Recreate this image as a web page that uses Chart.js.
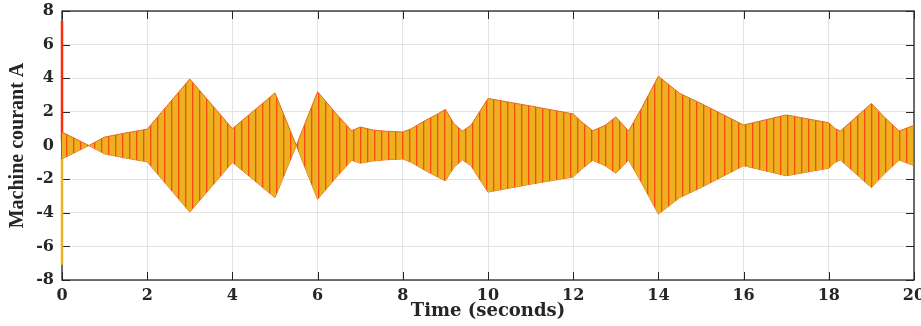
<!DOCTYPE html>
<html>
<head>
<meta charset="utf-8">
<script src="https://cdn.jsdelivr.net/npm/chart.js@4"></script>
<style>
  body { margin: 0; background: #fff; }
  #wrap { width: 921px; height: 326px; position: relative; }
</style>
</head>
<body>
<div id="wrap"><canvas id="current-chart"></canvas></div>
<script>
// envelope of the machine current
const times = [0, 0.63, 1, 1.5, 2, 3, 4, 5, 5.5, 6, 6.4, 6.8, 7, 7.3, 7.6, 8, 8.2, 8.5, 8.8, 9,
  9.2, 9.4, 9.6, 9.8, 10, 11, 12, 12.2, 12.46, 12.75, 13, 13.3, 13.6, 14, 14.5, 15, 16, 17, 18,
  18.15, 18.27, 18.6, 19, 19.3, 19.65, 20];
const upperEnv = [0.8, 0, 0.5, 0.75, 0.97, 3.96, 1.0, 3.13, 0, 3.2, 2.0, 0.88, 1.1, 0.92, 0.85, 0.8, 1.0, 1.45, 1.85, 2.15,
  1.3, 0.86, 1.2, 2.0, 2.8, 2.35, 1.88, 1.4, 0.88, 1.2, 1.7, 0.86, 2.2, 4.12, 3.1, 2.5, 1.22, 1.82, 1.35,
  1.0, 0.86, 1.6, 2.5, 1.7, 0.86, 1.2];
const lowerEnv = [-0.8, 0, -0.5, -0.75, -0.97, -3.96, -1.0, -3.1, 0, -3.2, -2.0, -0.88, -1.05, -0.92, -0.85, -0.8, -1.0, -1.45, -1.85, -2.1,
  -1.3, -0.86, -1.2, -2.0, -2.77, -2.3, -1.87, -1.4, -0.88, -1.2, -1.65, -0.86, -2.2, -4.08, -3.1, -2.5, -1.2, -1.8, -1.35,
  -1.0, -0.86, -1.6, -2.5, -1.7, -0.86, -1.2];
// start-up transient at t = 0
const spikeTime = [0, 0];
const spikeRed = [0.3, 7.4];
const spikeYellow = [-0.8, -7.1];

const xTicks = [0, 2, 4, 6, 8, 10, 12, 14, 16, 18, 20];
const yTicks = [-8, -6, -4, -2, 0, 2, 4, 6, 8];

const YELLOW = '#EDB120';
const RED = '#FF2A0A';
const AXIS = '#262626';

function toPoints(xs, ys) {
  return xs.map((x, i) => ({ x: x, y: ys[i] }));
}

// vertical stripes to mimic the dense three phase oscillation
function makeStripes() {
  const c = document.createElement('canvas');
  c.width = 7;
  c.height = 1;
  const g = c.getContext('2d');
  g.fillStyle = YELLOW;
  g.fillRect(0, 0, 7, 1);
  g.fillStyle = 'rgba(255, 42, 10, 0.75)';
  g.fillRect(3, 0, 1, 1);
  g.fillStyle = '#F0901C';
  g.fillRect(4, 0, 1, 1);
  return g.createPattern(c, 'repeat');
}

// MATLAB style box: inward ticks on all four sides, drawn under the traces
const boxTicks = {
  id: 'boxTicks',
  beforeDatasetsDraw(chart) {
    const { ctx, chartArea: a, scales } = chart;
    ctx.save();
    ctx.strokeStyle = AXIS;
    ctx.lineWidth = 1;
    ctx.beginPath();
    xTicks.forEach(v => {
      const px = Math.round(scales.x.getPixelForValue(v)) + 0.5;
      ctx.moveTo(px, a.bottom); ctx.lineTo(px, a.bottom - 8);
      ctx.moveTo(px, a.top); ctx.lineTo(px, a.top + 8);
    });
    yTicks.forEach(v => {
      const py = Math.round(scales.y.getPixelForValue(v)) + 0.5;
      ctx.moveTo(a.left, py); ctx.lineTo(a.left + 8, py);
      ctx.moveTo(a.right, py); ctx.lineTo(a.right - 8, py);
    });
    ctx.stroke();
    ctx.lineWidth = 1.3;
    ctx.strokeRect(a.left, a.top, a.right - a.left, a.bottom - a.top);
    ctx.restore();
  }
};

const ctx = document.getElementById('current-chart').getContext('2d');
new Chart(ctx, {
  type: 'line',
  data: {
    datasets: [
      {
        label: 'upper',
        data: toPoints(times, upperEnv),
        borderColor: '#E06A1A',
        borderWidth: 1,
        backgroundColor: makeStripes(),
        fill: '+1',
        pointRadius: 0,
        tension: 0
      },
      {
        label: 'lower',
        data: toPoints(times, lowerEnv),
        borderColor: '#E06A1A',
        borderWidth: 1,
        fill: false,
        pointRadius: 0,
        tension: 0
      },
      {
        label: 'spike a',
        data: toPoints(spikeTime, spikeRed),
        borderColor: RED,
        borderWidth: 2.5,
        pointRadius: 0,
        fill: false,
        clip: false
      },
      {
        label: 'spike c',
        data: toPoints(spikeTime, spikeYellow),
        borderColor: YELLOW,
        borderWidth: 2.5,
        pointRadius: 0,
        fill: false,
        clip: false
      }
    ]
  },
  options: {
    responsive: true,
    maintainAspectRatio: false,
    animation: false,
    layout: { padding: { left: 0, right: 7, top: 11, bottom: 0 } },
    plugins: {
      legend: { display: false },
      tooltip: { enabled: false }
    },
    scales: {
      x: {
        type: 'linear',
        min: 0,
        max: 20,
        afterBuildTicks: s => { s.ticks = xTicks.map(v => ({ value: v })); },
        afterFit: s => { s.height = 46; s.paddingRight = 0; s.paddingLeft = 0; },
        grid: { color: '#e3e3e3', lineWidth: 1, drawTicks: false },
        border: { display: false },
        ticks: {
          padding: 6,
          color: AXIS,
          maxRotation: 0,
          font: { family: 'DejaVu Serif', weight: 'bold', size: 16 }
        },
        title: {
          display: true,
          text: 'Time (seconds)',
          color: AXIS,
          padding: { top: 0, bottom: 4 },
          font: { family: 'DejaVu Serif', weight: 'bold', size: 18 }
        }
      },
      y: {
        min: -8,
        max: 8,
        afterBuildTicks: s => { s.ticks = yTicks.map(v => ({ value: v })); },
        afterFit: s => { s.width = 62; s.paddingTop = 0; s.paddingBottom = 0; },
        grid: { color: '#e3e3e3', lineWidth: 1, drawTicks: false },
        border: { display: false },
        ticks: {
          padding: 8,
          color: AXIS,
          font: { family: 'DejaVu Serif', weight: 'bold', size: 16 }
        },
        title: {
          display: true,
          text: 'Machine courant A',
          color: AXIS,
          padding: { top: 6, bottom: 0 },
          font: { family: 'Liberation Serif', weight: 'bold', size: 20 }
        }
      }
    }
  },
  plugins: [boxTicks]
});
</script>
</body>
</html>
